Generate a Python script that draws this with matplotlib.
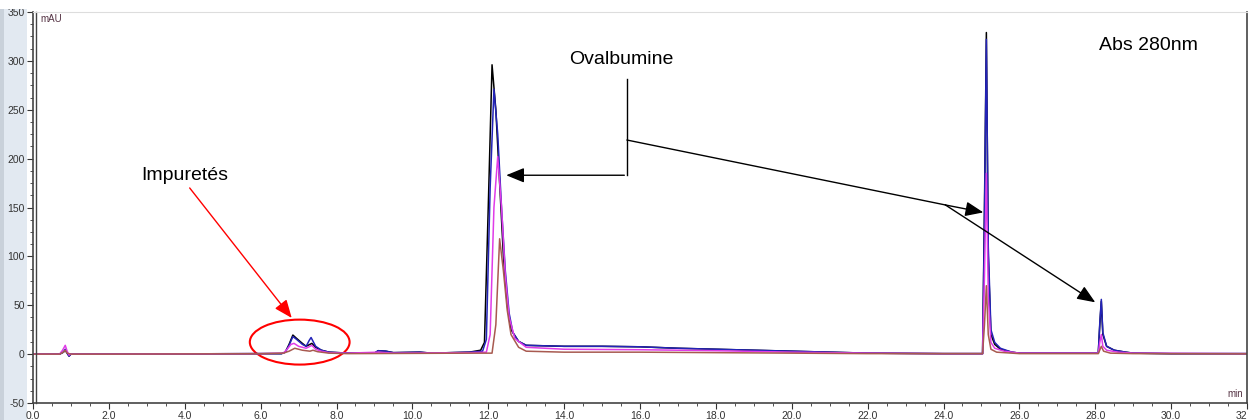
import matplotlib
matplotlib.use("Agg")
import matplotlib.pyplot as plt
from matplotlib.patches import Ellipse, Rectangle
from matplotlib.ticker import MultipleLocator

plt.rcParams["font.family"] = ["Liberation Sans", "DejaVu Sans"]
plt.rcParams["axes.unicode_minus"] = False

# Chromatogram traces (time in min, absorbance in mAU)
t_black = [0, 0.7, 0.8, 0.85, 0.9, 0.95, 1.0, 2, 4, 6, 6.55, 6.65, 6.75, 6.85, 6.95, 7.1, 7.2,
           7.3, 7.35, 7.45, 7.6, 7.8, 8.3, 9.0, 9.1, 9.3, 9.5, 10.2, 10.5, 11.5, 11.8, 11.9,
           12.0, 12.1, 12.2, 12.3, 12.4, 12.5, 12.6, 12.8, 13.0, 14, 15, 16, 17, 18, 19, 20,
           21, 22, 24, 25.03, 25.08, 25.13, 25.18, 25.25, 25.35, 25.5, 25.8, 26, 27, 28.08,
           28.12, 28.16, 28.2, 28.3, 28.5, 28.8, 29, 30, 32]
y_black = [0, 0, 2, 4, 1, -2, 0, 0, 0.3, 0.5, 0.5, 2, 10, 19.5, 16, 11, 8, 10, 11, 7, 4, 2, 1,
           1, 3.5, 3, 1.5, 2, 1, 2, 4, 12, 150, 296, 250, 175, 100, 50, 25, 13, 9, 8, 8, 7.5,
           6, 5, 4, 3, 2, 1, 0.5, 0.5, 150, 329, 100, 20, 10, 5, 2, 1, 1, 1, 30, 54, 20, 8,
           4, 2, 1, 0.5, 0.5]

t_blue = [0, 0.7, 0.8, 0.85, 0.9, 0.95, 1.0, 2, 4, 6, 6.55, 6.65, 6.75, 6.85, 6.95, 7.1, 7.2,
          7.28, 7.33, 7.45, 7.6, 7.8, 8.3, 9.0, 9.1, 9.3, 9.5, 10.2, 10.5, 11.5, 11.85, 11.95,
          12.05, 12.15, 12.25, 12.35, 12.45, 12.55, 12.65, 12.8, 13.0, 14, 15, 16, 17, 18, 19,
          20, 21, 22, 24, 25.03, 25.08, 25.13, 25.18, 25.25, 25.35, 25.5, 25.8, 26, 27, 28.08,
          28.12, 28.16, 28.2, 28.3, 28.5, 28.8, 29, 30, 32]
y_blue = [0, 0, 2, 5, 1, -2, 0, 0, 0.3, 0.5, 0.5, 2, 9, 18, 15, 10, 8, 14, 17, 8, 4, 2, 1, 1,
          3.5, 3, 1.5, 2, 1, 2, 3, 15, 170, 271, 225, 150, 85, 42, 22, 13, 9, 8, 8, 7.5, 6,
          5, 4, 3, 2, 1, 0.5, 0.5, 140, 322, 110, 25, 12, 6, 2, 1, 1, 1, 32, 56, 22, 8, 4,
          2, 1, 0.5, 0.5]

t_magenta = [0, 0.7, 0.78, 0.85, 0.9, 0.95, 1.0, 2, 4, 6, 6.6, 6.7, 6.8, 6.88, 7.0, 7.2, 7.3,
             7.35, 7.45, 7.6, 7.8, 8.3, 9.1, 9.5, 11.5, 11.95, 12.05, 12.15, 12.25, 12.35,
             12.45, 12.55, 12.7, 13.0, 14, 16, 18, 20, 22, 24, 25.03, 25.08, 25.13, 25.18,
             25.25, 25.35, 25.6, 26, 28.08, 28.12, 28.16, 28.2, 28.3, 28.6, 29, 32]
y_magenta = [0, 0, 4, 9, 3, -1, 0, 0, 0.3, 0.5, 1, 5, 10, 11, 8, 6, 8, 9, 5, 3, 1.5, 1, 2,
             1, 1.5, 2, 20, 150, 202, 150, 80, 38, 16, 7, 5, 4.5, 3.5, 2, 1, 0.5, 0.5, 80,
             185, 60, 12, 6, 3, 1, 1, 12, 20, 8, 4, 2, 1, 0.5]

t_brown = [0, 0.7, 0.8, 0.85, 0.9, 1.0, 2, 4, 6, 6.6, 6.75, 6.9, 7.1, 7.3, 7.38, 7.5, 7.8,
           8.3, 11.5, 12.1, 12.2, 12.3, 12.4, 12.5, 12.6, 12.8, 13.0, 14, 16, 18, 20, 22,
           25.03, 25.08, 25.13, 25.18, 25.25, 25.4, 26, 28.08, 28.16, 28.22, 28.4, 29, 32]
y_brown = [0, 0, 2, 4, 1, 0, 0, 0.2, 0.4, 1, 3, 6, 4, 3, 4, 2.5, 1, 0.5, 1, 1, 30, 118, 85,
           45, 20, 7, 3, 2, 2, 1.5, 1, 0.5, 0.5, 30, 70, 20, 5, 2, 0.5, 0.5, 8, 3, 1, 0.5,
           0.3]

trace_colors = ["#000000", "#2323b8", "#e03ce8", "#a85a50"]

x_ticks = [0, 2, 4, 6, 8, 10, 12, 14, 16, 18, 20, 22, 24, 26, 28, 30, 32]
x_tick_labels = ["0.0", "2.0", "4.0", "6.0", "8.0", "10.0", "12.0", "14.0", "16.0", "18.0",
                 "20.0", "22.0", "24.0", "26.0", "28.0", "30.0", "32"]
y_ticks = [-50, 0, 50, 100, 150, 200, 250, 300, 350]


def main():
    fig = plt.figure(figsize=(12.49, 4.2), dpi=100)
    ax = fig.add_axes([33 / 1249, 17 / 420, 1214 / 1249, 391 / 420])

    # light window strip on the left like the software screenshot
    fig.patches.append(Rectangle((0, 0), 27 / 1249, 1, transform=fig.transFigure,
                                 facecolor="#e2e9f1", edgecolor="none", zorder=-2))
    fig.patches.append(Rectangle((0, 0), 4 / 1249, 1, transform=fig.transFigure,
                                 facecolor="#c9d1da", edgecolor="none", zorder=-1))

    traces = [(t_black, y_black), (t_blue, y_blue), (t_magenta, y_magenta), (t_brown, y_brown)]
    for (t, y), c in zip(traces, trace_colors):
        ax.plot(t, y, color=c, lw=1.1)

    ax.set_xlim(0, 32)
    ax.set_ylim(-50, 350)
    ax.set_xticks(x_ticks)
    ax.set_xticklabels(x_tick_labels)
    ax.get_xticklabels()[-1].set_horizontalalignment("right")
    ax.set_yticks(y_ticks)
    ax.xaxis.set_minor_locator(MultipleLocator(0.5))
    ax.yaxis.set_minor_locator(MultipleLocator(12.5))
    ax.tick_params(axis="both", which="major", labelsize=7.5, length=4, width=0.8,
                   colors="#333333", pad=2)
    ax.tick_params(axis="both", which="minor", length=2, width=0.6, colors="#333333")

    for side in ["left", "bottom", "right"]:
        ax.spines[side].set_color("#444444")
        ax.spines[side].set_linewidth(1.2)
    ax.spines["top"].set_color("#dddddd")
    ax.spines["top"].set_linewidth(0.8)
    # second (double) line of the y axis
    ax.axvline(0.08, color="#444444", lw=1.0, clip_on=False)

    ax.text(0.2, 343, "mAU", fontsize=7, color="#553344", va="center", ha="left")
    ax.text(31.9, -46, "min", fontsize=7, color="#553344", va="bottom", ha="right")

    # annotations
    ax.text(15.5, 301, "Ovalbumine", fontsize=14, ha="center", va="center")
    ax.plot([15.66, 15.66], [281, 183], color="black", lw=1.0)
    ax.annotate("", xy=(12.4, 183), xytext=(15.66, 183),
                arrowprops=dict(arrowstyle="-|>,head_length=1.1,head_width=0.45",
                                color="black", lw=1.0))
    ax.plot([15.66, 24.05], [219, 152.6], color="black", lw=1.0)
    ax.annotate("", xy=(25.05, 145), xytext=(24.05, 152.6),
                arrowprops=dict(arrowstyle="-|>,head_length=1.1,head_width=0.45",
                                color="black", lw=1.0, shrinkA=0, shrinkB=0))
    ax.annotate("", xy=(28.0, 53), xytext=(24.05, 152.6),
                arrowprops=dict(arrowstyle="-|>,head_length=1.1,head_width=0.45",
                                color="black", lw=1.0, shrinkA=0, shrinkB=0))

    ax.text(4.0, 183, "Impuretés", fontsize=14, ha="center", va="center")
    ax.annotate("", xy=(6.82, 37), xytext=(4.13, 170),
                arrowprops=dict(arrowstyle="-|>,head_length=1.1,head_width=0.45",
                                color="red", lw=1.0, shrinkA=0, shrinkB=0))
    ax.add_patch(Ellipse((7.03, 12.3), 2.63, 46, fill=False, edgecolor="red", lw=1.5))

    ax.text(29.4, 316, "Abs 280nm", fontsize=14, ha="center", va="center")

    # the screenshot is cut off at the top
    fig.patches.append(Rectangle((0, 1 - 9 / 420), 1, 9 / 420, transform=fig.transFigure,
                                 facecolor="white", edgecolor="none", zorder=10))

    plt.savefig("out.png", dpi=100)
    plt.close()


if __name__ == "__main__":
    main()
